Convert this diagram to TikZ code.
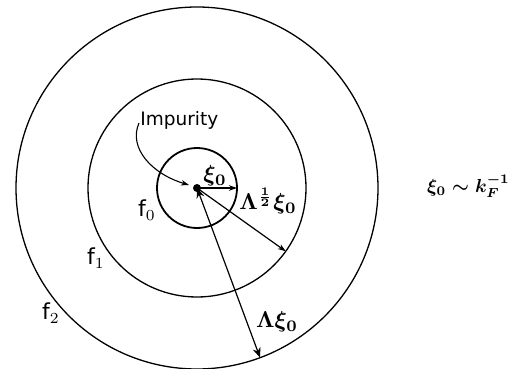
\documentclass[tikz,border=0pt]{standalone}
\usepackage{amsmath}
\usepackage{fontspec}
\setsansfont{DejaVu Sans}
\usetikzlibrary{arrows.meta,calc}

\begin{document}
\begin{tikzpicture}[x=1pt,y=-1pt,>={Stealth[length=8pt,width=5.5pt]},
    lbl/.style={font=\sffamily,scale=1.85,inner sep=0pt},
    flbl/.style={font=\sffamily,scale=2.2,inner sep=0pt},
    mlbl/.style={font=\boldmath,scale=2.3,inner sep=0pt},
    ring/.style={line width=1.3pt},
    rarrow/.style={->,line width=1.2pt}]
    \useasboundingbox (0,0) rectangle (512,369);

    \coordinate (O) at (197,188);
    \coordinate (E0) at ([shift={(0:40pt)}]O);
    \coordinate (E1) at ([shift={(-35.5:109pt)}]O);
    \coordinate (E2) at ([shift={(-69.6:181pt)}]O);

    % three zones
    \draw[ring,line width=1.8pt] (O) circle (40pt);
    \draw[ring] (O) circle (109pt);
    \draw[ring] (O) circle (181pt);
    \fill (O) circle (4pt);

    % radii
    \draw[rarrow] (O) -- (E0);
    \draw[rarrow] (O) -- (E1);
    \draw[rarrow,<->,>={Stealth[length=10pt,width=8pt]}] (O) -- (E2);

    % labels
    \node[lbl,anchor=west] (imp) at (140,120) {Impurity};
    \draw[->,line width=1.1pt] ($(imp.west)+(-1,3)$) .. controls (128,148) and (152,174) .. (189,185);
    \node[mlbl] (xi) at (215,176) {$\xi_0$};
    \node[mlbl] (lhalf) at (268,201) {$\Lambda^{\frac{1}{2}}\xi_0$};
    \node[mlbl] (lxi) at (277,322) {$\Lambda\xi_0$};
    \node[flbl] (f0) at (147,210) {f$_0$};
    \node[flbl] (f1) at (96,258) {f$_1$};
    \node[flbl] (f2) at (51,313) {f$_2$};
    \node[mlbl,scale=0.82,anchor=east] (rel) at (510,186) {$\xi_0\sim k_F^{-1}$};
\end{tikzpicture}
\end{document}
